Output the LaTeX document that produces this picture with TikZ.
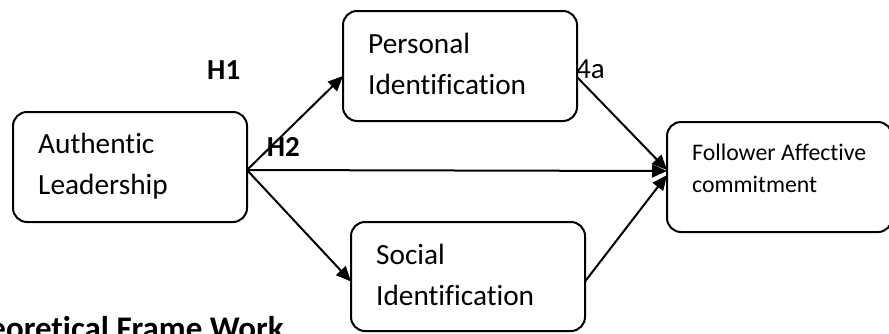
\documentclass[tikz,border=0pt]{standalone}
\usepackage{fontspec}
\setmainfont{Carlito}[Ligatures=NoCommon]
\usetikzlibrary{arrows.meta,calc,positioning}
\tikzset{
  conbox/.style={draw, line width=2pt, rounded corners=14pt, inner sep=0pt, outer sep=0pt,
                 minimum width=234pt, minimum height=110pt},
  boxtext/.style={anchor=base west, inner sep=0pt, align=left, font=\fontsize{29.3}{41}\selectfont},
  hyplabel/.style={anchor=base west, inner sep=0pt, font=\fontsize{29}{35}\bfseries},
  link/.style={line width=2pt, -{Triangle[length=15pt,width=13pt]}},
}
\begin{document}
\begin{tikzpicture}[x=1pt, y=-1pt] % {{{
\useasboundingbox (0,0) rectangle (889,333);
\clip (0,0) rectangle (889,333);
% Boxes   {{{
\node[conbox] (al) at (130,167) {};
\node[boxtext] (altext) at ($(al.north west)+(25,82)$) {Authentic\\Leadership};
\node[conbox] (pi) at (460,66) {};
\node[boxtext] (pitext) at ($(pi.north west)+(25,83)$) {Personal\\Identification};
\node[conbox, minimum height=109pt] (si) at (468,276.5) {};
\node[boxtext] (sitext) at ($(si.north west)+(25,83)$) {Social\\Identification};
\node[conbox, minimum width=225pt] (fac) at (779.5,177) {};
\node[boxtext, font=\fontsize{23.8}{32.7}\selectfont] (factext) at ($(fac.north west)+(25,70.7)$) {Follower Affective\\commitment};
% }}}
% Labels   {{{
\node[hyplabel] (h1) at (207,79) {H1};
\node[hyplabel] (h2) at (266.7,156.7) {H2};
\node[hyplabel, font=\fontsize{29}{32}\selectfont] (h4a) at (576,78) {4a};
\node[anchor=base east, inner sep=0pt, font=\fontsize{33}{40}\bfseries] (title) at (284,339) {Theoretical Frame Work};
% }}}
% Arrows   {{{
\draw[link] ($(al.east)+(0,3)$) -- ($(pi.west)+(0,10)$);
\draw[link] ($(al.east)+(0,3)$) -- ($(si.west)+(0,5)$);
\draw[link] ($(al.east)+(0,3)$) -- ($(fac.west)+(0,-6)$);
\draw[link] ($(pi.east)+(0,11)$) -- ($(fac.west)+(0,-7)$);
\draw[link] ($(si.east)+(0,5)$) -- ($(fac.west)+(0,-2)$);
% }}}
\end{tikzpicture} % }}}
\end{document}
